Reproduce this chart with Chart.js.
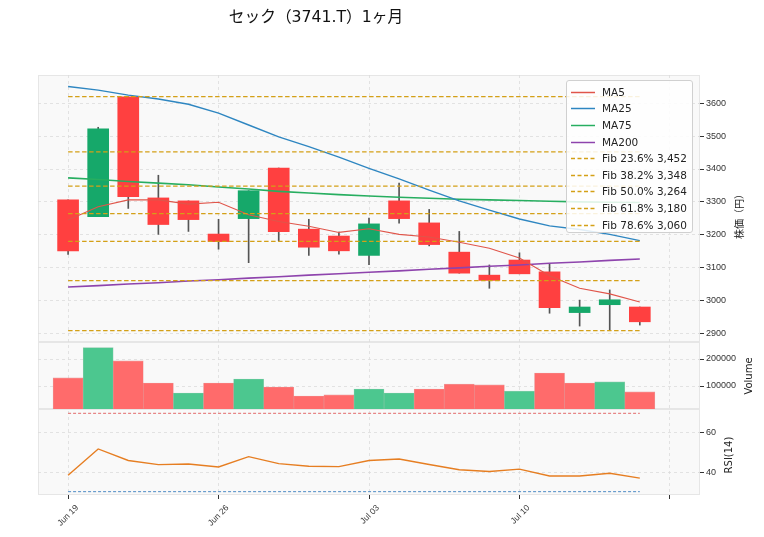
<!DOCTYPE html>
<html><head><meta charset="utf-8">
<script src="https://cdn.jsdelivr.net/npm/chart.js@4.4.0/dist/chart.umd.min.js"></script>
<style>
html,body{margin:0;padding:0;background:#fff;}
#wrap{position:relative;width:764px;height:537px;font-family:"DejaVu Sans","Noto Sans CJK JP",sans-serif;color:#222;}
#c{position:absolute;left:0;top:0;}
#title{position:absolute;left:0;width:632px;top:4px;text-align:center;font-size:15.7px;color:#111;white-space:nowrap;}
.ytitle{position:absolute;font-size:10px;color:#222;white-space:nowrap;transform:translate(-50%,-50%) rotate(-90deg);}
#legend{position:absolute;left:566px;top:80px;width:127px;height:153px;box-sizing:border-box;border:1px solid #d0d0d0;border-radius:3px;background:rgba(255,255,255,0.85);font-size:10.5px;}
.row{position:absolute;left:0;height:16px;line-height:16px;white-space:nowrap;}
.row svg{position:absolute;left:3px;top:7px;}
.row span{position:absolute;left:35px;top:0;}
</style></head>
<body>
<div id="wrap">
<canvas id="c" width="764" height="537"></canvas>
<div id="title">セック（3741.T）1ヶ月</div>
<div class="ytitle" style="left:738px;top:214px;">株価（円）</div>
<div class="ytitle" style="left:748px;top:376px;">Volume</div>
<div class="ytitle" style="left:728px;top:455px;">RSI(14)</div>
<div id="legend"></div>
</div>
<script>
// ---- data ----
const days = ['Jun 19','Jun 20','Jun 21','Jun 22','Jun 23','Jun 26','Jun 27','Jun 28','Jun 29','Jun 30',
              'Jul 03','Jul 04','Jul 05','Jul 06','Jul 07','Jul 10','Jul 11','Jul 12','Jul 13','Jul 14'];
const tickIdx = [0,5,10,15,20];
const tickLabels = ['Jun 19','Jun 26','Jul 03','Jul 10',''];
const priceTicks = [2900,3000,3100,3200,3300,3400,3500,3600];
const volTicks = [100000,200000];
const rsiTicks = [40,60];
const open  = [3306,3255,3620,3312,3303,3202,3249,3403,3217,3196,3137,3303,3236,3147,3077,3123,3087,2963,2987,2980];
const close = [3151,3522,3316,3231,3246,3179,3334,3209,3162,3151,3233,3249,3170,3083,3061,3081,2978,2980,3002,2935];
const high  = [3306,3527,3620,3381,3303,3247,3334,3403,3247,3208,3251,3357,3277,3210,3108,3145,3113,3001,3032,2980];
const low   = [3140,3255,3280,3201,3210,3156,3115,3181,3137,3141,3109,3235,3166,3083,3037,3081,2961,2922,2908,2925];
const volume = [130000,242000,193000,111000,74000,111000,126000,96000,63000,67000,89000,74000,89000,107000,104000,81000,148000,111000,115000,78000];
const volUp  = [0,1,0,0,1,0,1,0,0,0,1,1,0,0,0,1,0,0,1,0];
const ma5   = [3245,3285,3306,3306,3293,3299,3261,3240,3226,3207,3218,3201,3193,3177,3159,3129,3075,3037,3020,2995];
const ma25  = [3651,3640,3625,3613,3597,3570,3534,3498,3468,3436,3402,3370,3336,3303,3275,3248,3227,3216,3201,3182];
const ma75  = [3373,3368,3362,3357,3352,3345,3339,3332,3327,3322,3318,3314,3311,3308,3306,3304,3302,3300,3299,3298];
const ma200 = [3041,3045,3050,3054,3059,3063,3068,3072,3077,3081,3086,3090,3095,3099,3104,3108,3113,3117,3122,3126];
const rsi   = [38.4,51.8,45.9,43.8,44.1,42.6,47.9,44.3,43.0,42.8,45.9,46.7,43.9,41.2,40.3,41.5,38.0,38.0,39.4,36.9];
const fibNames  = ['', 'Fib 23.6%','Fib 38.2%','Fib 50.0%','Fib 61.8%','Fib 78.6%',''];
const fibPrices = [3620,3452,3348,3264,3180,3060,2908];
const rsiLevels = [70,30];

// ---- styles ----
const UP='#16a86a', DOWN='#ff4040', VUP='#4cc78f', VDOWN='#ff6b6b';
const C_MA5='#e0554a', C_MA25='#2e86c1', C_MA75='#27ae60', C_MA200='#8e44ad', C_FIB='#d4a017', C_RSI='#e67e22';
const PRICE_MIN=2873.5, PRICE_MAX=3686.1, VOL_MIN=14815, VOL_MAX=262963, RSI_MIN=28.3, RSI_MAX=72.2;

const pts = arr => arr.map((v,i)=>({x:i,y:v}));
const span = (v) => [{x:0,y:v},{x:days.length-1,y:v}];

const datasets = [];
datasets.push({type:'bar',label:'wick',data:days.map((d,i)=>({x:i,y:[low[i],high[i]]})),
  backgroundColor:'#555555',barThickness:1,grouped:false,yAxisID:'y',order:20});
datasets.push({type:'bar',label:'body',data:days.map((d,i)=>({x:i,y:[open[i],close[i]]})),
  backgroundColor:days.map((d,i)=>close[i]>=open[i]?UP:DOWN),barThickness:21,grouped:false,yAxisID:'y',order:15});
datasets.push({type:'bar',label:'vol',data:pts(volume),base:VOL_MIN,
  backgroundColor:volUp.map(u=>u?VUP:VDOWN),borderColor:volUp.map(u=>u?'rgba(40,160,100,0.5)':'rgba(220,70,70,0.5)'),borderWidth:0.6,
  barThickness:30,grouped:false,yAxisID:'yv',order:15});
const line = (label,arr,color,yid,w,dash)=>({type:'line',label,data:arr,borderColor:color,borderWidth:w,borderDash:dash||[],
  pointRadius:0,fill:false,tension:0,yAxisID:yid,order:5});
fibPrices.forEach((p,k)=>datasets.push(line(fibNames[k],span(p),C_FIB,'y',1.3,[4.5,2.5])));
datasets.push(line('MA5',pts(ma5),C_MA5,'y',1.1));
datasets.push(line('MA25',pts(ma25),C_MA25,'y',1.4));
datasets.push(line('MA75',pts(ma75),C_MA75,'y',1.6));
datasets.push(line('MA200',pts(ma200),C_MA200,'y',1.6));
datasets.push(line('RSI70',span(rsiLevels[0]),'#e05a5a','yr',0.9,[3,2]));
datasets.push(line('RSI30',span(rsiLevels[1]),'#3b7fc0','yr',0.9,[3,2]));
datasets.push(line('RSI',pts(rsi),C_RSI,'yr',1.4));

const panelBg = {
  id:'panelBg',
  beforeDraw(chart){
    const {ctx, chartArea:a} = chart;
    ctx.save();
    ['y','yv','yr'].forEach(id=>{
      const s = chart.scales[id];
      ctx.fillStyle='#f9f9f9';
      ctx.fillRect(a.left, s.top, a.right-a.left, s.bottom-s.top);
      ctx.strokeStyle='#e6e6e6'; ctx.lineWidth=1;
      ctx.strokeRect(a.left+0.5, s.top+0.5, a.right-a.left-1, s.bottom-s.top-1);
    });
    ctx.restore();
  }
};

const tickFont = {size:9};
const yCommon = (min,max,tickVals,weight)=>({
  type:'linear', position:'right', stack:'panels', stackWeight:weight, min, max,
  afterFit:s=>{s.width=64;},
  afterBuildTicks:s=>{s.ticks=tickVals.map(v=>({value:v}));},
  ticks:{color:'#333', font:tickFont, padding:2, callback:v=>String(v)},
  grid:{color:'#dcdcdc', lineWidth:0.8, tickColor:'#333', tickLength:4, tickWidth:1, tickBorderDash:[]},
  border:{display:false, dash:[3,3]}
});

new Chart(document.getElementById('c'),{
  data:{datasets},
  plugins:[panelBg],
  options:{
    responsive:false, animation:false, events:[],
    layout:{padding:{left:38,top:75,right:0,bottom:0}},
    plugins:{legend:{display:false},tooltip:{enabled:false},title:{display:false}},
    scales:{
      x:{type:'linear',position:'bottom',min:-1,max:21,offset:false,
        afterBuildTicks:s=>{s.ticks=tickIdx.map(v=>({value:v}));},
        afterFit:s=>{s.height=42;},
        ticks:{autoSkip:false,minRotation:45,maxRotation:45,color:'#333',font:{size:8.5},padding:4,labelOffset:9,
          callback:(v)=>{const k=tickIdx.indexOf(v);return k>=0?tickLabels[k]:'';}},
        grid:{offset:false,color:'#dcdcdc',lineWidth:0.8,tickColor:'#333',tickLength:4,tickWidth:1,tickBorderDash:[]},
        border:{display:false,dash:[3,3]}
      },
      y: yCommon(PRICE_MIN,PRICE_MAX,priceTicks,267),
      yv: yCommon(VOL_MIN,VOL_MAX,volTicks,67),
      yr: yCommon(RSI_MIN,RSI_MAX,rsiTicks,86)
    }
  }
});

// ---- legend (HTML) ----
const legendItems = [
  {t:'MA5',c:C_MA5,d:false},{t:'MA25',c:C_MA25,d:false},{t:'MA75',c:C_MA75,d:false},{t:'MA200',c:C_MA200,d:false}
];
fibNames.forEach((n,k)=>{ if(n) legendItems.push({t:n+' '+fibPrices[k].toLocaleString('en-US'),c:C_FIB,d:true}); });
const lg = document.getElementById('legend');
legendItems.forEach((it,i)=>{
  const r=document.createElement('div'); r.className='row'; r.style.top=(2.7+i*16.6)+'px';
  r.innerHTML='<svg width="26" height="3"><line x1="1" y1="1.5" x2="25" y2="1.5" stroke="'+it.c+'" stroke-width="1.5"'+
    (it.d?' stroke-dasharray="4,2.5"':'')+'/></svg><span>'+it.t+'</span>';
  lg.appendChild(r);
});
</script>
</body></html>
